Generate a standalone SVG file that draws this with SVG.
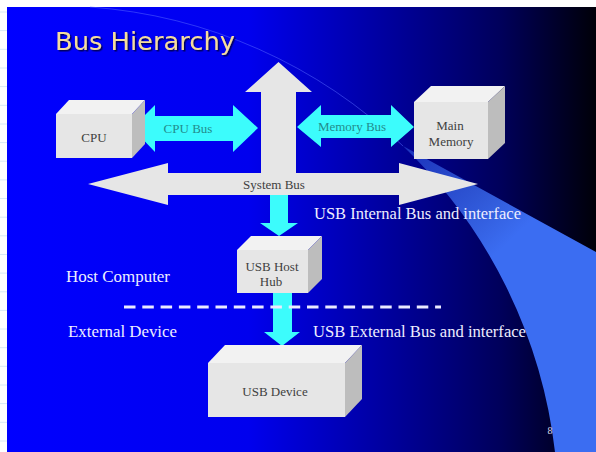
<svg xmlns="http://www.w3.org/2000/svg" width="596" height="452" viewBox="0 0 596 452">
  <defs>
    <linearGradient id="bg" gradientUnits="userSpaceOnUse" x1="7" y1="0" x2="596" y2="0">
      <stop offset="0" stop-color="#0000ff"/>
      <stop offset="0.41" stop-color="#0000ee"/>
      <stop offset="0.58" stop-color="#0000b4"/>
      <stop offset="0.75" stop-color="#00007a"/>
      <stop offset="0.84" stop-color="#00005a"/>
      <stop offset="1" stop-color="#000008"/>
    </linearGradient>
    <linearGradient id="wedge" gradientUnits="userSpaceOnUse" x1="403" y1="146" x2="500" y2="250">
      <stop offset="0" stop-color="#3b6df2" stop-opacity="0.45"/>
      <stop offset="1" stop-color="#3b6df2" stop-opacity="1"/>
    </linearGradient>
    <filter id="shadow" x="-10%" y="-30%" width="120%" height="160%">
      <feDropShadow dx="1.5" dy="1.5" stdDeviation="0.6" flood-color="#000040" flood-opacity="0.8"/>
    </filter>
    <style>
      .front { fill: #e6e6e6; }
      .top { fill: #f2f2f2; }
      .side { fill: #bdbdbd; }
      .gray { fill: #e6e6e6; }
      .cyan { fill: #3cfcfc; }
      .boxtxt { font-family: "Liberation Serif", "Times New Roman", serif; font-size: 13px; fill: #404040; text-anchor: middle; }
      .bustxt { font-family: "Liberation Serif", "Times New Roman", serif; font-size: 13px; fill: #238c8c; text-anchor: middle; }
      .label { font-family: "Liberation Serif", "Times New Roman", serif; font-size: 16px; fill: #eeeeff; }
      .margin { stroke: #d8e8f7; stroke-width: 1; }
    </style>
  </defs>

  <!-- page margins -->
  <rect x="0" y="0" width="596" height="452" fill="#ffffff"/>
  <g class="margin">
    <line x1="0" y1="12" x2="7" y2="12"/><line x1="0" y1="30.6" x2="7" y2="30.6"/>
    <line x1="0" y1="49.3" x2="7" y2="49.3"/><line x1="0" y1="68" x2="7" y2="68"/>
    <line x1="0" y1="86.6" x2="7" y2="86.6"/><line x1="0" y1="105.3" x2="7" y2="105.3"/>
    <line x1="0" y1="124" x2="7" y2="124"/><line x1="0" y1="142.6" x2="7" y2="142.6"/>
    <line x1="0" y1="161.2" x2="7" y2="161.2"/><line x1="0" y1="179.9" x2="7" y2="179.9"/>
    <line x1="0" y1="198.5" x2="7" y2="198.5"/><line x1="0" y1="217.2" x2="7" y2="217.2"/>
    <line x1="0" y1="235.8" x2="7" y2="235.8"/><line x1="0" y1="254.5" x2="7" y2="254.5"/>
    <line x1="0" y1="273.1" x2="7" y2="273.1"/><line x1="0" y1="291.8" x2="7" y2="291.8"/>
    <line x1="0" y1="310.4" x2="7" y2="310.4"/><line x1="0" y1="329" x2="7" y2="329"/>
    <line x1="0" y1="347.7" x2="7" y2="347.7"/><line x1="0" y1="366.3" x2="7" y2="366.3"/>
    <line x1="0" y1="385" x2="7" y2="385"/><line x1="0" y1="403.6" x2="7" y2="403.6"/>
    <line x1="0" y1="422.3" x2="7" y2="422.3"/><line x1="0" y1="441" x2="7" y2="441"/>
  </g>

  <!-- slide background -->
  <rect x="7" y="7" width="589" height="445" fill="url(#bg)"/>
  <path d="M 403 146 L 596 252 L 596 452 L 555 452 A 504.6 504.6 0 0 0 403 146 Z" fill="url(#wedge)"/>
  <path d="M 90 7 A 504.6 504.6 0 0 1 403 146" fill="none" stroke="#5a6cff" stroke-width="1" opacity="0.5"/>

  <!-- title -->
  <text x="55" y="50" font-family="'DejaVu Sans', Verdana, sans-serif" font-size="24" fill="#f4dc9e" textLength="180" lengthAdjust="spacingAndGlyphs" filter="url(#shadow)">Bus Hierarchy</text>

  <!-- connectors -->
  <g id="connectors">
    <g id="system-bus">
      <polygon class="gray" points="88,184 168,163 168,173 261,173 261,92 245,92 278.5,62 312,92 296,92 296,173 399,173 399,163 478,184 399,205 399,195 168,195 168,205"/>
      <text class="boxtxt" x="274" y="189">System Bus</text>
    </g>
    <g id="cpu-bus">
      <polygon class="cyan" points="132,128 155,105 155,116 233,116 233,105 258,128 233,152 233,141 155,141 155,152"/>
      <text class="bustxt" x="188" y="133">CPU Bus</text>
    </g>
    <g id="memory-bus">
      <polygon class="cyan" points="297,127 321,105 321,115 391,115 391,105 414,127 391,147 391,138 321,138 321,147"/>
      <text class="bustxt" x="352" y="131">Memory Bus</text>
    </g>
    <g id="usb-internal">
      <polygon class="cyan" points="270,195 288,195 288,223 298,223 279,236 260,223 270,223"/>
    </g>
    <g id="usb-external">
      <polygon class="cyan" points="273,293 292,293 292,332 300,332 282,346 264,332 273,332"/>
    </g>
  </g>

  <!-- nodes -->
  <g id="cpu">
    <polygon class="top" points="56,114 69,100 145,100 132,114"/>
    <polygon class="side" points="132,114 145,100 145,144 132,158"/>
    <rect class="front" x="56" y="114" width="76" height="44"/>
    <text class="boxtxt" x="94" y="142">CPU</text>
  </g>
  <g id="main-memory">
    <polygon class="top" points="414,102 431,86 505,86 488,102"/>
    <polygon class="side" points="488,102 505,86 505,143 488,159"/>
    <rect class="front" x="414" y="102" width="74" height="57"/>
    <text class="boxtxt" x="450" y="130">Main</text>
    <text class="boxtxt" x="451" y="146">Memory</text>
  </g>
  <g id="usb-host-hub">
    <polygon class="top" points="237,250 251,236 322,236 308,250"/>
    <polygon class="side" points="308,250 322,236 322,279 308,293"/>
    <rect class="front" x="237" y="250" width="71" height="43"/>
    <text class="boxtxt" x="272" y="271">USB Host</text>
    <text class="boxtxt" x="271" y="286">Hub</text>
  </g>
  <g id="usb-device">
    <polygon class="top" points="208,363 225,345 362,345 345,363"/>
    <polygon class="side" points="345,363 362,345 362,399 345,417"/>
    <rect class="front" x="208" y="363" width="137" height="54"/>
    <text class="boxtxt" x="275" y="396">USB Device</text>
  </g>

  <!-- boundary -->
  <line x1="124" y1="307" x2="441" y2="307" stroke="#eaeaff" stroke-width="3" stroke-dasharray="11.5 6.8"/>

  <!-- labels -->
  <text class="label" x="314" y="219" textLength="207" lengthAdjust="spacingAndGlyphs">USB Internal Bus and interface</text>
  <text class="label" x="313" y="337" textLength="213" lengthAdjust="spacingAndGlyphs">USB External Bus and interface</text>
  <text class="label" x="66" y="282" textLength="104" lengthAdjust="spacingAndGlyphs">Host Computer</text>
  <text class="label" x="68" y="337" textLength="109" lengthAdjust="spacingAndGlyphs">External Device</text>
  <text x="550" y="434" font-family="'Liberation Serif', serif" font-size="10" fill="#d8d8e8" text-anchor="middle">8</text>
</svg>
